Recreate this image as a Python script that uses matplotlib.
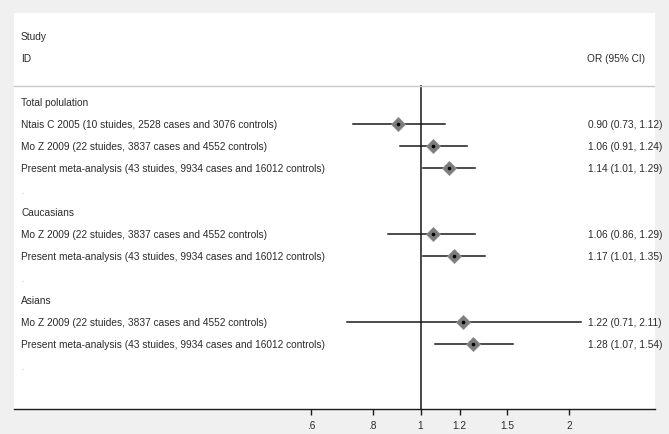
import numpy as np
import matplotlib
matplotlib.use("Agg")
import matplotlib.pyplot as plt
import matplotlib.transforms as mtransforms

plt.rcParams["font.family"] = ["Liberation Sans", "DejaVu Sans"]

# rows of the forest plot, top to bottom
row_labels = [
    "Total polulation",
    "Ntais C 2005 (10 stuides, 2528 cases and 3076 controls)",
    "Mo Z 2009 (22 stuides, 3837 cases and 4552 controls)",
    "Present meta-analysis (43 stuides, 9934 cases and 16012 controls)",
    ".",
    "Caucasians",
    "Mo Z 2009 (22 stuides, 3837 cases and 4552 controls)",
    "Present meta-analysis (43 stuides, 9934 cases and 16012 controls)",
    ".",
    "Asians",
    "Mo Z 2009 (22 stuides, 3837 cases and 4552 controls)",
    "Present meta-analysis (43 stuides, 9934 cases and 16012 controls)",
    ".",
]
# odds ratios and 95% CI (None for header / spacer rows)
or_est = [None, 0.90, 1.06, 1.14, None, None, 1.06, 1.17, None, None, 1.22, 1.28, None]
ci_low = [None, 0.73, 0.91, 1.01, None, None, 0.86, 1.01, None, None, 0.71, 1.07, None]
ci_high = [None, 1.12, 1.24, 1.29, None, None, 1.29, 1.35, None, None, 2.11, 1.54, None]

xticks = [0.6, 0.8, 1, 1.2, 1.5, 2]
xtick_labels = [".6", ".8", "1", "1.2", "1.5", "2"]

W, H = 669, 435
fig = plt.figure(figsize=(W / 100, H / 100), dpi=100, facecolor="#f0f0f0")
# white plot panel in pixel terms
left, right, top, bottom = 14, 655, 14, 410
ax = fig.add_axes([left / W, 1 - bottom / H, (right - left) / W, (bottom - top) / H])
ax.set_facecolor("white")

ax.set_xscale("log")
ax.set_xlim(0.150, 2.987)
ax.set_ylim(13.95, -4.05)

txt_color = "#2b2b2b"
fs = 7.3
lab_tr = mtransforms.blended_transform_factory(ax.transAxes, ax.transData)

# header
ax.text(7 / 641, -3, "Study", transform=lab_tr, fontsize=fs, color=txt_color, va="center", ha="left")
ax.text(7 / 641, -2, "ID", transform=lab_tr, fontsize=fs, color=txt_color, va="center", ha="left")
ax.text(631 / 641, -2, "OR (95% CI)", transform=lab_tr, fontsize=fs, color=txt_color, va="center", ha="right")
ax.axhline(-0.73, color="#c8c8c8", lw=1.0)

# null line
ax.plot([1, 1], [-0.73, 13.95], color="#484848", lw=1.4, zorder=1)

for i, lab in enumerate(row_labels):
    if lab == ".":
        ax.text(7 / 641, i, ".", transform=lab_tr, fontsize=fs, color="#c0c0c0", va="center", ha="left")
    else:
        ax.text(7 / 641, i, lab, transform=lab_tr, fontsize=fs, color=txt_color, va="center", ha="left")
    if or_est[i] is None:
        continue
    ax.plot([ci_low[i], ci_high[i]], [i, i], color="#1a1a1a", lw=1.1, zorder=2)
    ax.plot(or_est[i], i, marker="D", ms=6.8, color="#7c7c7c", mec="#909090", mew=0.6, zorder=3)
    ax.plot(or_est[i], i, marker="o", ms=1.6, color="black", zorder=4)
    ax.text(648 / 641, i, f"{or_est[i]:.2f} ({ci_low[i]:.2f}, {ci_high[i]:.2f})",
            transform=lab_tr, fontsize=fs, color=txt_color, va="center", ha="right", clip_on=False)

for s in ["top", "right", "left"]:
    ax.spines[s].set_visible(False)
ax.spines["bottom"].set_color("#1a1a1a")
ax.spines["bottom"].set_linewidth(1.0)
ax.set_yticks([])
ax.set_xticks(xticks)
ax.set_xticklabels(xtick_labels)
ax.xaxis.set_minor_locator(matplotlib.ticker.NullLocator())
ax.tick_params(axis="x", direction="out", length=4, width=1.0, color="#1a1a1a",
               labelsize=fs, labelcolor=txt_color, pad=4)

fig.savefig("out.png", dpi=100, facecolor=fig.get_facecolor())
